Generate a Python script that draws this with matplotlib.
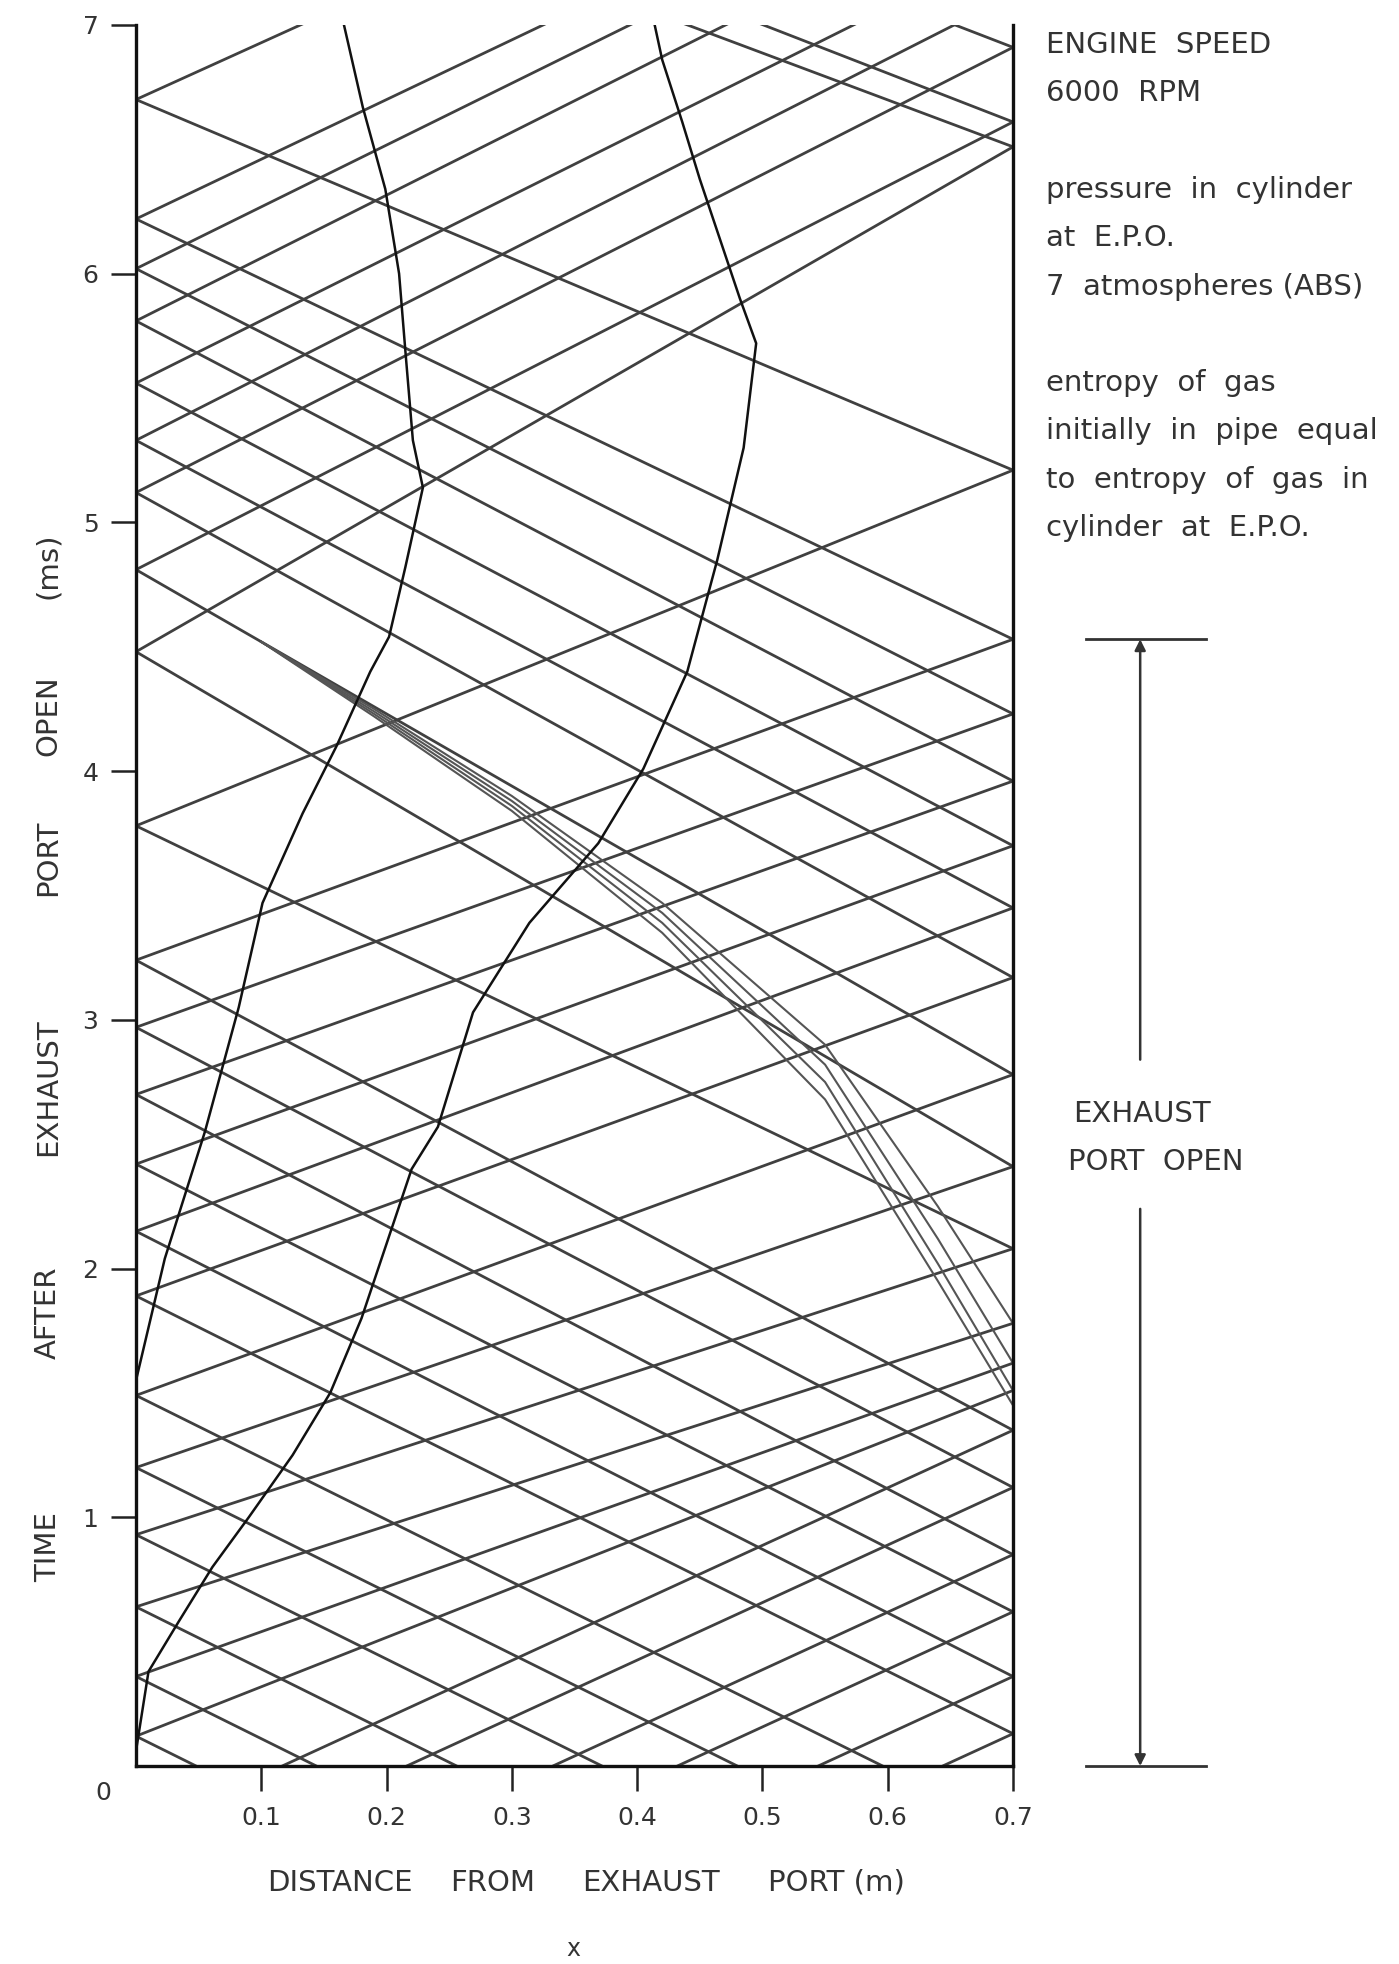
import numpy as np
import matplotlib
matplotlib.use('Agg')
import matplotlib.pyplot as plt
from matplotlib import transforms

# pipe length (m) and the time axis (ms)
pipe_len = 0.7
t_max = 7.0

# rightward waves: time at x=0 and time at x=0.7 (negative / >7 values run off the chart)
right_tl = [-1.49, -1.26, -1.00, -0.77, -0.50, -0.27, 0.12, 0.36, 0.64, 0.93, 1.20, 1.49,
            1.89, 2.15, 2.42, 2.70, 2.97, 3.24, 3.78, 4.48, 4.81, 5.12, 5.33, 5.56,
            5.81, 6.02, 6.22, 6.70]
right_tr = [0.13, 0.36, 0.62, 0.85, 1.12, 1.35, 1.51, 1.62, 1.78, 2.08, 2.41, 2.78,
            3.17, 3.45, 3.70, 3.96, 4.23, 4.53, 5.21, 6.51, 6.61, 6.91, 7.12, 7.32,
            7.58, 7.76, 7.90, 8.30]

# leftward waves: time at x=0.7 and time at x=0
left_tr = [-1.63, -1.39, -1.11, -0.82, -0.55, -0.26, 0.13, 0.36, 0.62, 0.85, 1.12, 1.35,
           2.08, 2.41, 2.78, 3.17, 3.45, 3.70, 3.96, 4.23, 4.53, 5.21, 6.51, 6.61, 6.91]
left_tl = [0.12, 0.36, 0.64, 0.93, 1.20, 1.49, 1.89, 2.15, 2.42, 2.70, 2.97, 3.24,
           3.78, 4.48, 4.81, 5.12, 5.33, 5.56, 5.81, 6.02, 6.22, 6.70, 7.83, 7.98, 8.27]

# compression fan running into the shock near the port
fan_x = [0.10, 0.19, 0.30, 0.42, 0.55, 0.64, 0.70]
fan_t1 = [4.52, 4.25, 3.90, 3.47, 2.90, 2.25, 1.78]
fan_t2 = [4.52, 4.24, 3.88, 3.43, 2.82, 2.12, 1.62]
fan_t3 = [4.52, 4.23, 3.86, 3.39, 2.75, 2.02, 1.51]
fan_t4 = [4.52, 4.22, 3.84, 3.35, 2.68, 1.95, 1.45]

# particle paths
path1_x = [0.000, 0.023, 0.055, 0.082, 0.101, 0.133, 0.160, 0.187, 0.202, 0.215, 0.229,
           0.221, 0.215, 0.210, 0.199, 0.181, 0.166]
path1_t = [1.55, 2.04, 2.55, 3.05, 3.47, 3.83, 4.10, 4.40, 4.54, 4.82, 5.14,
           5.33, 5.69, 6.00, 6.34, 6.67, 7.00]
path2_x = [0.000, 0.010, 0.034, 0.061, 0.090, 0.125, 0.155, 0.180, 0.200, 0.220, 0.241,
           0.269, 0.314, 0.369, 0.405, 0.440, 0.464, 0.485, 0.495, 0.482, 0.466, 0.450,
           0.436, 0.420, 0.414]
path2_t = [0.06, 0.38, 0.58, 0.80, 1.00, 1.25, 1.50, 1.80, 2.10, 2.40, 2.57,
           3.03, 3.39, 3.71, 4.01, 4.40, 4.85, 5.30, 5.72, 5.90, 6.14, 6.38,
           6.61, 6.86, 7.00]

epo_end = 4.53  # exhaust port closes (ms)

x_ticks = [0.1, 0.2, 0.3, 0.4, 0.5, 0.6, 0.7]
y_ticks = [1, 2, 3, 4, 5, 6, 7]

notes = ['ENGINE  SPEED', '6000  RPM', '',
         'pressure  in  cylinder', 'at  E.P.O.', '7  atmospheres (ABS)', '',
         'entropy  of  gas', 'initially  in  pipe  equal', 'to  entropy  of  gas  in',
         'cylinder  at  E.P.O.']

ink = '#404040'
txt = '#333333'
plt.rcParams['font.family'] = ['DejaVu Sans']

fig = plt.figure(figsize=(13.99, 19.64), dpi=100)
ax = fig.add_axes([0.0972, 0.1008, 0.6269, 0.8865])

for tl, tr in zip(right_tl, right_tr):
    ax.plot([0, pipe_len], [tl, tr], color=ink, lw=2.0)
for tr, tl in zip(left_tr, left_tl):
    ax.plot([pipe_len, 0], [tr, tl], color=ink, lw=2.0)
for ft in [fan_t1, fan_t2, fan_t3, fan_t4]:
    ax.plot(fan_x, ft, color='#555555', lw=1.5)

ax.plot(path1_x, path1_t, color='#111111', lw=1.8)
ax.plot(path2_x, path2_t, color='#111111', lw=1.8)

ax.set_xlim(0, pipe_len)
ax.set_ylim(0, t_max)
ax.spines['top'].set_visible(False)
for s in ['left', 'right', 'bottom']:
    ax.spines[s].set_linewidth(2.4)
    ax.spines[s].set_color('#111111')

ax.set_xticks(x_ticks)
ax.set_xticklabels([str(v) for v in x_ticks])
ax.set_yticks(y_ticks)
ax.set_yticklabels([str(v) for v in y_ticks])
ax.tick_params(axis='both', direction='out', length=18, width=1.8, colors='#222222',
               labelsize=18, labelcolor=txt)
ax.tick_params(axis='x', pad=11)
ax.tick_params(axis='y', pad=9)
ax.text(-0.026, -0.11, '0', fontsize=18, color=txt, ha='center', va='center',
        clip_on=False)

# axis titles, words spread out like the plotter lettering
xwords = ['DISTANCE', 'FROM', 'EXHAUST', 'PORT (m)']
xword_pos = [0.243, 0.352, 0.465, 0.598]
for w, px in zip(xwords, xword_pos):
    fig.text(px, 0.0413, w, fontsize=21, color=txt, ha='center', va='center')
fig.text(0.410, 0.0075, 'x', fontsize=17, color=txt, ha='center', va='center')

ywords = ['TIME', 'AFTER', 'EXHAUST', 'PORT', 'OPEN', '(ms)']
yword_pos = [0.2123, 0.3315, 0.4466, 0.5631, 0.6354, 0.7118]
for w, py in zip(ywords, yword_pos):
    fig.text(0.0343, py, w, fontsize=21, color=txt, ha='center', va='center',
             rotation=90)

# notes on the right
y0 = 0.9771
for i, line in enumerate(notes):
    if line:
        fig.text(0.748, y0 - i * 0.0246, line, fontsize=21, color=txt,
                 ha='left', va='center')

# exhaust port open span
trans = transforms.blended_transform_factory(fig.transFigure, ax.transData)
arrow_x = 0.8150
for ty in [0.0, epo_end]:
    ax.plot([0.776, 0.862], [ty, ty], transform=trans, color=txt, lw=2.0,
            clip_on=False)
ax.annotate('', xy=(arrow_x, epo_end), xytext=(arrow_x, 2.84), xycoords=trans,
            textcoords=trans,
            arrowprops=dict(arrowstyle='-|>', color=txt, lw=1.8,
                            mutation_scale=16, shrinkA=0, shrinkB=0))
ax.annotate('', xy=(arrow_x, 0.0), xytext=(arrow_x, 2.24), xycoords=trans,
            textcoords=trans,
            arrowprops=dict(arrowstyle='-|>', color=txt, lw=1.8,
                            mutation_scale=16, shrinkA=0, shrinkB=0))
ax.text(0.816, 2.62, 'EXHAUST', transform=trans, fontsize=21, color=txt,
        ha='center', va='center')
ax.text(0.826, 2.43, 'PORT  OPEN', transform=trans, fontsize=21, color=txt,
        ha='center', va='center')

fig.savefig('out.png', dpi=100, facecolor='white')
